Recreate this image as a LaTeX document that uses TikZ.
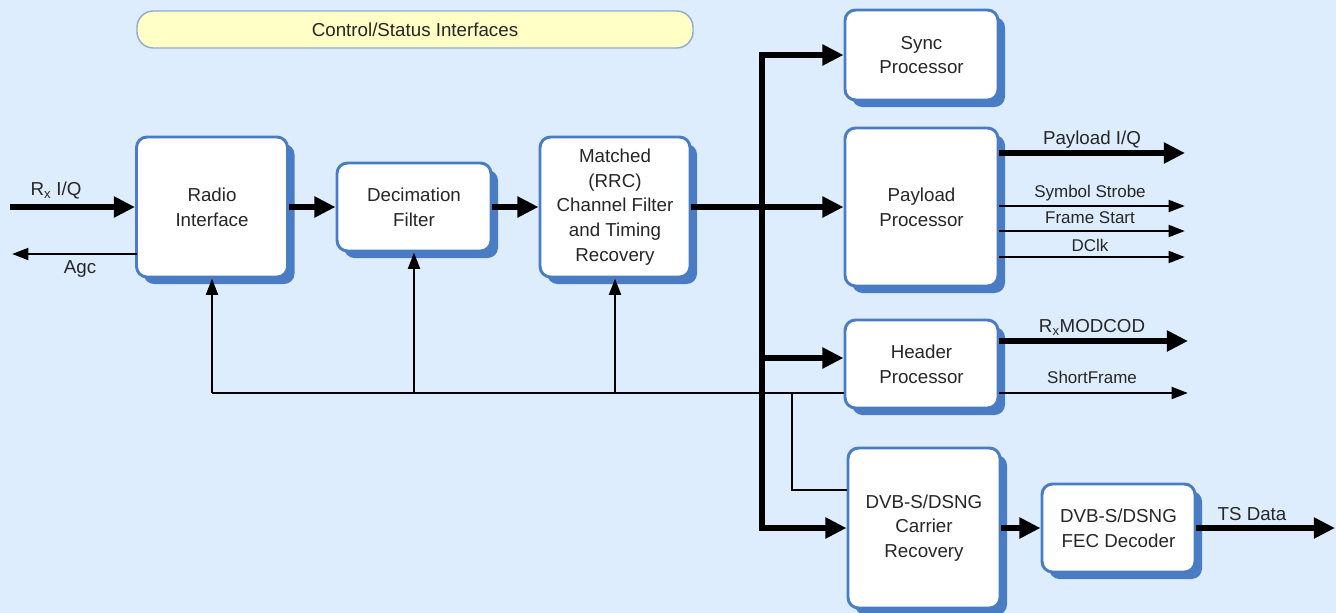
\documentclass[tikz,border=0pt]{standalone}
\usepackage{fontspec}
\setmainfont{Liberation Sans}
\usetikzlibrary{arrows.meta,shadows}
\definecolor{bg}{HTML}{DDEDFD}
\definecolor{bblue}{HTML}{4A7CC4}
\definecolor{ylw}{HTML}{FFFFC6}
\definecolor{ylwd}{HTML}{8FA9D2}
\definecolor{txt}{HTML}{262626}
\begin{document}
\begin{tikzpicture}[x=0.03cm,y=-0.03cm,
  blk/.style={draw=bblue, line width=2.5pt, fill=white, rounded corners=9pt, align=center, text=txt,
    font=\fontsize{16}{21}\selectfont, inner sep=0pt,
    drop shadow={shadow xshift=6pt, shadow yshift=-6pt, opacity=1, fill=bblue}},
  thk/.style={line width=5.8pt, -{Triangle[length=18pt,width=17pt]}},
  thn/.style={line width=2.4pt, -{Triangle[length=14pt,width=10pt]}},
  thline/.style={line width=2.4pt},
  lbl/.style={text=txt, font=\fontsize{16}{21}\selectfont, inner sep=0pt},
  slbl/.style={text=txt, font=\fontsize{14.5}{18}\selectfont, inner sep=0pt}]
\fill[bg] (0,0) rectangle (1336,613);
\useasboundingbox (0,0) rectangle (1336,613);

% control/status
\node[draw=ylwd, line width=1.2pt, fill=ylw, rounded corners=14pt, minimum width=16.68cm, minimum height=1.11cm,
  text=txt, font=\fontsize{16}{21}\selectfont] (ctl) at (415,29.5) {Control/Status Interfaces};

% blocks
\node[blk, minimum width=4.53cm, minimum height=4.2cm] (radio) at (212,207) {Radio\\Interface};
\node[blk, minimum width=4.62cm, minimum height=2.64cm] (dec) at (414,207) {Decimation\\Filter};
\node[blk, minimum width=4.5cm, minimum height=4.2cm] (mat) at (615,207) {Matched\\(RRC)\\Channel Filter\\and Timing\\Recovery};
\node[blk, minimum width=4.59cm, minimum height=2.7cm] (sync) at (921.5,55) {Sync\\Processor};
\node[blk, minimum width=4.59cm, minimum height=4.74cm] (pay) at (921.5,207) {Payload\\Processor};
\node[blk, minimum width=4.59cm, minimum height=2.64cm] (hdr) at (921.5,364) {Header\\Processor};
\node[blk, minimum width=4.56cm, minimum height=4.8cm] (car) at (924,528) {DVB-S/DSNG\\Carrier\\Recovery};
\node[blk, minimum width=4.59cm, minimum height=2.64cm] (fec) at (1118.5,528) {DVB-S/DSNG\\FEC Decoder};

% coordinates
\coordinate (rxin) at (10,207);
\coordinate (agcend) at (12,254);
\coordinate (agcst) at (137,254);
\coordinate (bt) at (762,55);
\coordinate (bb) at (762,528);
\coordinate (hb) at (762,358);
\coordinate (c0) at (212,393);
\coordinate (c1) at (792,393);
\coordinate (c2) at (792,490);
\coordinate (pq) at (1185,153);
\coordinate (ss) at (1185,206);
\coordinate (fs) at (1185,231);
\coordinate (dc) at (1185,257);
\coordinate (mc) at (1188,341);
\coordinate (sf) at (1188,393);
\coordinate (ts) at (1335,528);

% main path
\draw[thk] (rxin) -- (radio.west);
\draw[thn] (agcst) -- (agcend);
\draw[thk] (radio.east) -- (dec.west);
\draw[thk] (dec.east) -- (mat.west);
\draw[thk] (mat.east) -- (pay.west);
\draw[thk] (bb) -- (bt) -- (sync.west);
\draw[thk] (bt) -- (bb) -- (car.west);
\draw[thk] (hb) -- (hb -| hdr.west);
\draw[thk] (car.east) -- (fec.west);
\draw[thk] (fec.east) -- (ts);

% control bus
\draw[thline] (c0) -- (c0 -| hdr.west);
\draw[thn] (c0 -| radio.south) -- (radio.south);
\draw[thn] (c0 -| dec.south) -- (dec.south);
\draw[thn] (c0 -| mat.south) -- (mat.south);
\draw[thline] (c1) -- (c2) -- (c2 -| car.west);

% outputs
\draw[thk] (pq -| pay.east) -- (pq);
\draw[thn] (ss -| pay.east) -- (ss);
\draw[thn] (fs -| pay.east) -- (fs);
\draw[thn] (dc -| pay.east) -- (dc);
\draw[thk] (mc -| hdr.east) -- (mc);
\draw[thn] (sf -| hdr.east) -- (sf);

% labels
\node[lbl] (lrx) at (56,190) {R\textsubscript{x} I/Q};
\node[lbl] (lagc) at (80,269) {Agc};
\node[lbl] (lpq) at (1092,140) {Payload I/Q};
\node[slbl] (lss) at (1090,193) {Symbol Strobe};
\node[slbl] (lfs) at (1090,218) {Frame Start};
\node[slbl] (ldc) at (1090,245) {DClk};
\node[lbl] (lmc) at (1092,327) {R\textsubscript{x}MODCOD};
\node[slbl] (lsf) at (1092,377) {ShortFrame};
\node[lbl] (lts) at (1252,514) {TS Data};
\end{tikzpicture}
\end{document}
